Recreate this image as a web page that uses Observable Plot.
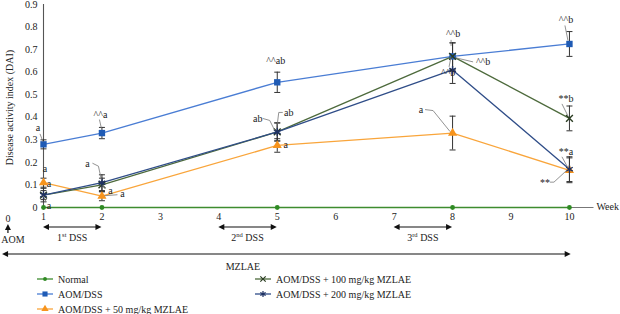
<!DOCTYPE html>
<html>
<head>
<meta charset="utf-8">
<script src="https://cdn.jsdelivr.net/npm/d3@7"></script>
<script src="https://cdn.jsdelivr.net/npm/@observablehq/plot@0.6"></script>
<style>
  body { margin: 0; background: #fff; }
  #chart svg { display: block; overflow: visible; }
</style>
</head>
<body>
<div id="chart"></div>
<script>
// Sampling weeks and axis ticks
const weeks = [1, 2, 5, 8, 10];
const weekTicks = [1, 2, 3, 4, 5, 6, 7, 8, 9, 10];
const yTicks = [0, 0.1, 0.2, 0.3, 0.4, 0.5, 0.6, 0.7, 0.8, 0.9];

// Disease activity index (mean) and error per group
const seriesNames = ["Normal", "AOM/DSS", "AOM/DSS + 50 mg/kg MZLAE", "AOM/DSS + 100 mg/kg MZLAE", "AOM/DSS + 200 mg/kg MZLAE"];
const normalDAI = [0, 0, 0, 0, 0];
const normalErr = [0, 0, 0, 0, 0];
const aomDssDAI = [0.28, 0.33, 0.555, 0.67, 0.725];
const aomDssErr = [0.02, 0.025, 0.045, 0.06, 0.055];
const mz50DAI = [0.11, 0.05, 0.275, 0.33, 0.165];
const mz50Err = [0.02, 0.02, 0.03, 0.075, 0.055];
const mz100DAI = [0.055, 0.10, 0.335, 0.67, 0.395];
const mz100Err = [0.02, 0.03, 0.04, 0.06, 0.055];
const mz200DAI = [0.055, 0.11, 0.335, 0.61, 0.17];
const mz200Err = [0.03, 0.035, 0.04, 0.06, 0.055];

// Significance letters (series index, week, text)
const sigSeries = [1, 1, 1, 1, 3, 3, 1, 3, 2, 4, 2, 4, 3, 2, 4, 3, 2, 3, 2, 4];
const sigWeeks  = [1, 2, 5, 8, 8, 8, 10, 10, 10, 10, 8, 5, 5, 5, 2, 2, 2, 1, 1, 1];
const sigTexts  = ["a", "^^a", "^^ab", "^^b", "^^b", "^^b", "^^b", "**b", "**a", "**", "a", "ab", "ab", "a", "a", "a", "a", "a", "a", "a"];

// Treatment schedule
const dssNumbers = ["1", "2", "3"];
const dssOrdinals = ["st", "nd", "rd"];
const dssStart = [1, 4, 7];
const dssEnd = [2, 5, 8];

const colors = {
  line: ["#3d8c2f", "#4a7dd4", "#f9a53b", "#4d6a3c", "#2f4d88"],
  mark: ["#2e8a22", "#1f5bb5", "#f7941d", "#2b3d22", "#1e3163"]
};
const symbols = ["circle", "square", "triangle", "times", "asterisk"];
const symbolR = [2.4, 3.6, 3.4, 3.2, 3.6];

const allDAI = [normalDAI, aomDssDAI, mz50DAI, mz100DAI, mz200DAI];
const allErr = [normalErr, aomDssErr, mz50Err, mz100Err, mz200Err];
const rows = allDAI.flatMap((vals, s) => vals.map((v, i) => ({s, week: weeks[i], v, e: allErr[s][i]})));
const errRows = rows.filter(d => d.e > 0);

// Horizontal cap used at the ends of error bars
const capSymbol = {
  draw(context, size) {
    const w = Math.sqrt(size / Math.PI);
    context.moveTo(-w, 0);
    context.lineTo(w, 0);
  }
};

// Pixel offsets of each significance letter and its leader, relative to its point
const sigLayout = [
  [-5, -16, [[-3, -10], [0, -2]]],
  [-1, -18, [[-2, -13], [0, -4]]],
  [-1, -21, []],
  [1, -22, [[-1, -16], [-1, -10]]],
  [31, 6, [[21, 6], [4, 2]]],
  [-4, 17, [[-3, 11], [-1, 1]]],
  [-3, -24, [[-4, -18], [-1, -3]]],
  [-3, -19, [[-7, -14], [-1, -2]]],
  [-3, -18, [[-7, -13], [-1, -2]]],
  [-24, 13.5, [[-19, 13.5], [-15, 13.5], [-2, 1.5]]],
  [-31, -23, [[-27, -23], [-19, -22], [-2, -1]]],
  [-19, -13, [[-14, -13], [-7, -11], [-2, -1]]],
  [12, -19, [[6, -19], [2, -19], [0, -3]]],
  [9, 0, []],
  [-14, -19, [[-9, -19], [-3, -16], [0, -2]]],
  [9, 6, [[4, 4], [1, 1]]],
  [21, -2, [[16, -1], [3, 0]]],
  [2, -26, []],
  [6, 1, []],
  [6, 11, [[3, 7], [0, 1]]]
];

const xEnd = 10.42;

function annotate(index, scales) {
  const x = scales.x, y = scales.y;
  const g = d3.create("svg:g")
    .attr("font-family", "'Liberation Serif', serif")
    .attr("fill", "#222");

  // significance letters with leader lines
  sigTexts.forEach((t, k) => {
    const s = sigSeries[k];
    const wi = weeks.indexOf(sigWeeks[k]);
    const px = x(sigWeeks[k]), py = y(allDAI[s][wi]);
    const [dx, dy, leader] = sigLayout[k];
    if (leader.length) {
      g.append("path")
        .attr("d", d3.line()(leader.map(([a, b]) => [px + a, py + b])))
        .attr("fill", "none").attr("stroke", "#777").attr("stroke-width", 0.8);
    }
    g.append("text")
      .attr("x", px + dx).attr("y", py + dy)
      .attr("text-anchor", "middle").attr("dominant-baseline", "central")
      .attr("font-size", 10).text(t);
  });

  // y axis title
  g.append("text")
    .attr("transform", `translate(9,${y(0.45) + 2}) rotate(-90)`)
    .attr("text-anchor", "middle").attr("dominant-baseline", "central")
    .attr("font-size", 10).text("Disease activity index (DAI)");

  // "Week" label at end of the x axis
  g.append("text")
    .attr("x", x(xEnd) + 3).attr("y", y(0) - 1).attr("text-anchor", "start")
    .attr("dominant-baseline", "central").attr("font-size", 10).text("Week");

  const head = (px, py, dir) => {
    // filled arrow head pointing in direction dir (radians)
    const L = 6, W = 3;
    const c = Math.cos(dir), s = Math.sin(dir);
    const pts = [[px, py], [px - L * c - W * s, py - L * s + W * c], [px - L * c + W * s, py - L * s - W * c]];
    g.append("path").attr("d", d3.line()(pts) + "Z").attr("fill", "#111");
  };
  const dblArrow = (x1, x2, py) => {
    g.append("line").attr("x1", x1 + 3).attr("x2", x2 - 3).attr("y1", py).attr("y2", py)
      .attr("stroke", "#111").attr("stroke-width", 1.2);
    head(x2, py, 0);
    head(x1, py, Math.PI);
  };

  // AOM injection at week 0
  const aomX = x(0.4);
  g.append("text").attr("x", aomX).attr("y", 218).attr("text-anchor", "middle")
    .attr("dominant-baseline", "central").attr("font-size", 10).text("0");
  g.append("line").attr("x1", aomX).attr("x2", aomX).attr("y1", 233).attr("y2", 228)
    .attr("stroke", "#111").attr("stroke-width", 1.2);
  head(aomX, 224, -Math.PI / 2);
  g.append("text").attr("x", aomX + 5).attr("y", 239).attr("text-anchor", "middle")
    .attr("dominant-baseline", "central").attr("font-size", 10).text("AOM");

  // DSS cycles
  dssNumbers.forEach((n, i) => {
    const x1 = x(dssStart[i]), x2 = x(dssEnd[i]);
    dblArrow(x1, x2, 227);
    const t = g.append("text").attr("x", (x1 + x2) / 2).attr("y", 241)
      .attr("text-anchor", "middle").attr("font-size", 10);
    t.append("tspan").text(n);
    t.append("tspan").attr("font-size", 6.5).attr("dy", -4).text(dssOrdinals[i]);
    t.append("tspan").attr("dy", 4).text(" DSS");
  });

  // MZLAE treatment span
  dblArrow(x(0.3), x(10.03), 254);
  g.append("text").attr("x", x(4.42)).attr("y", 266).attr("text-anchor", "middle")
    .attr("dominant-baseline", "central").attr("font-size", 10).text("MZLAE");

  // legend
  const legendPos = [[45, 279], [45, 294], [45, 309], [263, 279], [263, 294]];
  seriesNames.forEach((name, s) => {
    const [cx, cy] = legendPos[s];
    g.append("line").attr("x1", cx - 8).attr("x2", cx + 8).attr("y1", cy).attr("y2", cy)
      .attr("stroke", colors.line[s]).attr("stroke-width", 1.3);
    const sym = {circle: d3.symbolCircle, square: d3.symbolSquare, triangle: d3.symbolTriangle, times: d3.symbolTimes, asterisk: d3.symbolAsterisk}[symbols[s]];
    const r = symbolR[s] * 0.8;
    const filled = s < 3;
    g.append("path").attr("transform", `translate(${cx},${cy})`)
      .attr("d", d3.symbol(sym, r * r * Math.PI)())
      .attr("fill", filled ? colors.mark[s] : "none")
      .attr("stroke", filled ? "none" : colors.mark[s]).attr("stroke-width", 1.2);
    g.append("text").attr("x", cx + 13).attr("y", cy).attr("text-anchor", "start")
      .attr("dominant-baseline", "central").attr("font-size", 10).text(name);
  });

  return g.node();
}

const chart = Plot.plot({
  width: 620,
  height: 314,
  marginLeft: 43,
  marginRight: 23,
  marginTop: 4,
  marginBottom: 107,
  style: {fontFamily: "'Liberation Serif', serif", fontSize: "10px", color: "#222", background: "#fff", overflow: "visible"},
  x: {domain: [1, 10.48]},
  y: {domain: [0, 0.9]},
  marks: [
    Plot.ruleY([0], {x1: 1, x2: xEnd, stroke: "#777", strokeWidth: 1.2}),
    Plot.ruleX([1], {y1: 0, y2: 0.9, stroke: "#555", strokeWidth: 1.1}),
    Plot.axisY({ticks: yTicks, tickSize: 0, tickPadding: 6, label: null, tickFormat: d => d === 0 ? "0" : d.toFixed(1)}),
    Plot.axisX({ticks: weekTicks, tickSize: 0, tickPadding: 5, label: null}),
    Plot.line(rows, {x: "week", y: "v", z: "s", stroke: d => colors.line[d.s], strokeWidth: 1.3}),
    Plot.ruleX(errRows, {x: "week", y1: d => d.v - d.e, y2: d => d.v + d.e, stroke: "#333", strokeWidth: 1}),
    Plot.dot(errRows, {x: "week", y: d => d.v + d.e, symbol: capSymbol, r: 3, stroke: "#333", strokeWidth: 1}),
    Plot.dot(errRows, {x: "week", y: d => d.v - d.e, symbol: capSymbol, r: 3, stroke: "#333", strokeWidth: 1}),
    ...[0, 1, 2].map(s => Plot.dot(rows.filter(d => d.s === s), {x: "week", y: "v", symbol: symbols[s], r: symbolR[s], fill: colors.mark[s]})),
    ...[3, 4].map(s => Plot.dot(rows.filter(d => d.s === s), {x: "week", y: "v", symbol: symbols[s], r: symbolR[s], stroke: colors.mark[s], strokeWidth: 1.4})),
    annotate
  ]
});
document.getElementById("chart").append(chart);
</script>
</body>
</html>
